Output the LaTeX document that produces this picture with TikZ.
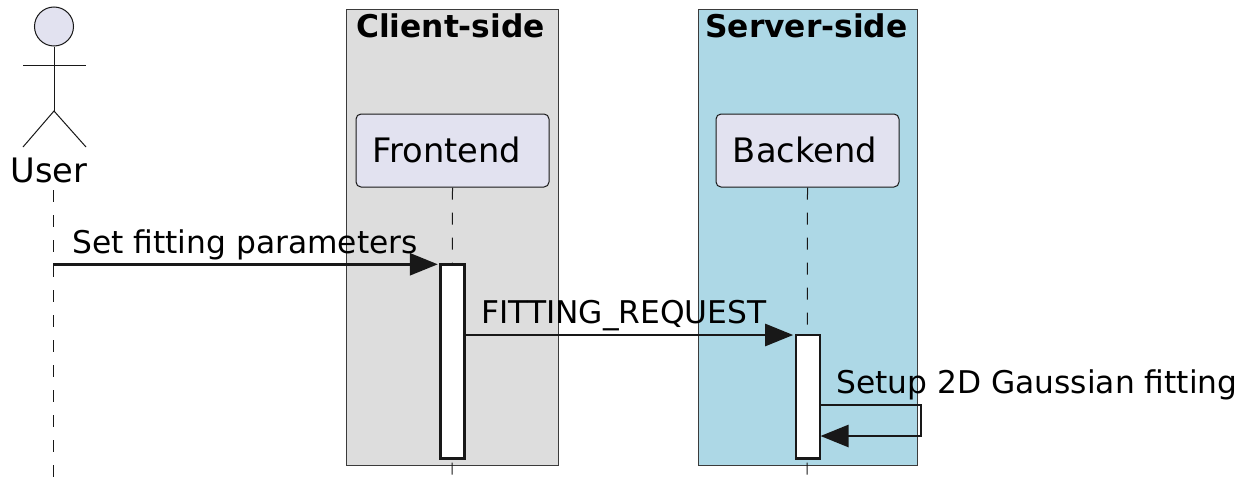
\documentclass[tikz,border=0pt]{standalone}
\usepackage{fontspec}
\setmainfont{DejaVu Sans}
\usetikzlibrary{arrows.meta}
\definecolor{partfill}{HTML}{E2E2F0}
\definecolor{darkline}{HTML}{181818}
\definecolor{clientfill}{HTML}{DDDDDD}
\definecolor{serverfill}{HTML}{ADD8E6}
\tikzset{
    groupbox/.style={draw=darkline!85!white, line width=1pt, anchor=north west, inner sep=0pt},
    grouptitle/.style={font=\fontsize{31.3}{31.3}\selectfont\bfseries, text=black, anchor=base, inner sep=0pt},
    partbox/.style={draw=darkline, fill=partfill, line width=1pt, rounded corners=5pt, anchor=north west, inner sep=0pt, minimum height=73pt},
    parttext/.style={font=\fontsize{33.7}{33.7}\selectfont, text=black, anchor=base, inner sep=0pt},
    msgtext/.style={font=\fontsize{31.3}{31.3}\selectfont, text=black, anchor=base west, inner sep=0pt},
    lifeline/.style={draw=darkline, line width=1pt, dash pattern=on 12pt off 13pt},
    activebar/.style={draw=darkline, fill=white, line width=2.5pt, anchor=north west, inner sep=0pt, minimum width=24pt},
    msg/.style={draw=darkline, line width=2.6pt, -{Triangle[length=28pt,width=22pt,fill=darkline]}},
}
\begin{document}
\begin{tikzpicture}[x=1pt,y=-1pt]
    \useasboundingbox (0,0) rectangle (1244,479);

    % Group boxes
    \node[groupbox, fill=clientfill, minimum width=212pt, minimum height=456pt] (clientGroup) at (345.5,8.5) {};
    \node[groupbox, fill=serverfill, minimum width=219pt, minimum height=456pt] (serverGroup) at (697.5,8.5) {};
    \node[grouptitle] (clientTitle) at (450.5,37) {Client-side};
    \node[grouptitle] (serverTitle) at (806.5,37) {Server-side};

    % Participants
    \node[partbox, minimum width=193pt] (frontend) at (355.5,113.5) {};
    \node[parttext] (frontendText) at (447,162) {Frontend};
    \node[partbox, minimum width=183pt] (backend) at (715.5,113.5) {};
    \node[parttext] (backendText) at (805,162) {Backend};

    % Actor
    \coordinate (neck) at (54,46.5);
    \coordinate (hip) at (54,111);
    \coordinate (armL) at (23,65);
    \coordinate (armR) at (86,65);
    \coordinate (legL) at (23,147);
    \coordinate (legR) at (86,147);
    \draw[draw=darkline, line width=1pt] (neck) -- (hip);
    \draw[draw=darkline, line width=1pt] (armL) -- (armR);
    \draw[draw=darkline, line width=1pt] (legL) -- (hip) -- (legR);
    \node[circle, draw=darkline, fill=partfill, line width=1pt, minimum size=39pt, inner sep=0pt] (userHead) at (54,26.5) {};
    \node[parttext] (userText) at (49,182) {User};

    % Lifelines
    \coordinate (userTop) at (53,190);
    \coordinate (userEnd) at (53,479);
    \coordinate (frontEnd) at (452,479);
    \coordinate (backEnd) at (807,479);
    \draw[lifeline] (userTop) -- (userEnd);
    \draw[lifeline] (frontend.south) -- (frontEnd);
    \draw[lifeline] (backend.south) -- (backEnd);

    % Activation bars
    \node[activebar, minimum height=193.8pt] (frontBar) at (439.3,263.3) {};
    \node[activebar, minimum height=123.6pt] (backBar) at (794.7,333.5) {};

    % Messages
    \coordinate (userMsg) at (53,264.3);
    \coordinate (frontOut) at (465,335);
    \coordinate (selfOut) at (820.5,405);
    \coordinate (selfRight) at (921,405);
    \coordinate (selfDown) at (921,436);
    \coordinate (selfBack) at (820.5,436);
    \draw[msg, shorten >=1.5pt] (userMsg) -- (frontBar.west |- userMsg);
    \draw[msg, shorten >=1.5pt] (frontOut) -- (backBar.west |- frontOut);
    \draw[msg] (selfOut) -- (selfRight) -- (selfDown) -- (selfBack);
    \node[msgtext] (setText) at (72,253) {Set fitting parameters};
    \node[msgtext] (fitText) at (481,323) {FITTING\_REQUEST};
    \node[msgtext] (setupText) at (836,393) {Setup 2D Gaussian fitting};
\end{tikzpicture}
\end{document}
